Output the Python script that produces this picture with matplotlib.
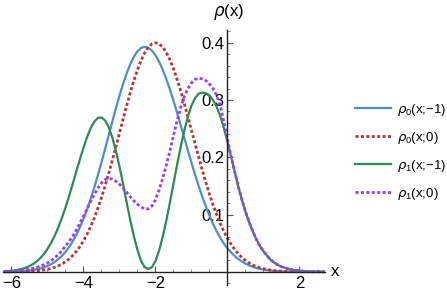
import matplotlib
matplotlib.use("Agg")
import numpy as np
import matplotlib.pyplot as plt
from matplotlib import font_manager
from matplotlib.ticker import MultipleLocator, FixedLocator

names = {f.name for f in font_manager.fontManager.ttflist}
FONT = "Liberation Sans Narrow" if "Liberation Sans Narrow" in names else "Liberation Sans"
plt.rcParams["font.family"] = [FONT, "DejaVu Sans"]
plt.rcParams["mathtext.fontset"] = "custom"
plt.rcParams["mathtext.rm"] = FONT
plt.rcParams["mathtext.it"] = "DejaVu Sans:italic"

# sample positions (step 0.1 from -6.2 to 2.7)
x = np.round(np.linspace(-6.2, 2.7, 90), 2)

rho0_m1 = [0.0002, 0.0003, 0.0004, 0.0006, 0.0009, 0.0012, 0.0017, 0.0024, 0.0032, 0.0044,
           0.0059, 0.0078, 0.0103, 0.0134, 0.0173, 0.0221, 0.0279, 0.0349, 0.0433, 0.0532,
           0.0646, 0.0778, 0.0926, 0.1093, 0.1276, 0.1475, 0.1688, 0.1913, 0.2146, 0.2384,
           0.2621, 0.2854, 0.3076, 0.3283, 0.3468, 0.3628, 0.3757, 0.3852, 0.3910, 0.3930,
           0.3913, 0.3863, 0.3781, 0.3669, 0.3531, 0.3368, 0.3186, 0.2988, 0.2777, 0.2560,
           0.2340, 0.2120, 0.1905, 0.1697, 0.1498, 0.1312, 0.1139, 0.0980, 0.0836, 0.0707,
           0.0593, 0.0494, 0.0410, 0.0338, 0.0276, 0.0224, 0.0180, 0.0143, 0.0113, 0.0088,
           0.0068, 0.0052, 0.0040, 0.0030, 0.0023, 0.0017, 0.0012, 0.0009, 0.0007, 0.0005,
           0.0003, 0.0002, 0.0002, 0.0001, 0.0001, 0.0, 0.0, 0.0, 0.0, 0.0]

rho0_0 = [0.0001, 0.0001, 0.0001, 0.0002, 0.0003, 0.0004, 0.0006, 0.0009, 0.0012, 0.0017,
          0.0024, 0.0033, 0.0044, 0.0060, 0.0079, 0.0104, 0.0136, 0.0176, 0.0225, 0.0284,
          0.0356, 0.0441, 0.0541, 0.0658, 0.0792, 0.0943, 0.1112, 0.1299, 0.1501, 0.1718,
          0.1947, 0.2184, 0.2426, 0.2668, 0.2904, 0.3131, 0.3341, 0.3530, 0.3692, 0.3824,
          0.3921, 0.3980, 0.4000, 0.3981, 0.3924, 0.3831, 0.3704, 0.3547, 0.3364, 0.3160,
          0.2940, 0.2710, 0.2473, 0.2236, 0.2002, 0.1775, 0.1559, 0.1356, 0.1168, 0.0997,
          0.0842, 0.0705, 0.0585, 0.0480, 0.0390, 0.0315, 0.0251, 0.0198, 0.0155, 0.0120,
          0.0092, 0.0070, 0.0053, 0.0039, 0.0029, 0.0021, 0.0015, 0.0011, 0.0008, 0.0005,
          0.0004, 0.0003, 0.0002, 0.0001, 0.0001, 0.0, 0.0, 0.0, 0.0, 0.0]

rho1_m1 = [0.0008, 0.0013, 0.0018, 0.0026, 0.0038, 0.0053, 0.0073, 0.0101, 0.0136, 0.0182,
           0.0239, 0.0311, 0.0400, 0.0505, 0.0631, 0.0776, 0.0940, 0.1124, 0.1323, 0.1534,
           0.1751, 0.1964, 0.2169, 0.2354, 0.2509, 0.2623, 0.2688, 0.2696, 0.2643, 0.2526,
           0.2348, 0.2115, 0.1838, 0.1531, 0.1209, 0.0900, 0.0620, 0.0380, 0.0190, 0.0080,
           0.0050, 0.0080, 0.0190, 0.0370, 0.0610, 0.0890, 0.1210, 0.1540, 0.1870, 0.2180,
           0.2468, 0.2712, 0.2903, 0.3037, 0.3111, 0.3130, 0.3120, 0.3080, 0.3000, 0.2880,
           0.2720, 0.2510, 0.2270, 0.2010, 0.1750, 0.1490, 0.1260, 0.1050, 0.0870, 0.0710,
           0.0570, 0.0450, 0.0360, 0.0280, 0.0210, 0.0160, 0.0120, 0.0090, 0.0070, 0.0050,
           0.0035, 0.0025, 0.0018, 0.0013, 0.0009, 0.0006, 0.0004, 0.0003, 0.0002, 0.0001]

rho1_0 = [0.0008, 0.0011, 0.0014, 0.0018, 0.0023, 0.0030, 0.0038, 0.0049, 0.0062, 0.0077,
          0.0098, 0.0124, 0.0155, 0.0195, 0.0245, 0.0300, 0.0370, 0.0450, 0.0530, 0.0620,
          0.0730, 0.0850, 0.0970, 0.1100, 0.1230, 0.1350, 0.1460, 0.1550, 0.1610, 0.1630,
          0.1620, 0.1580, 0.1530, 0.1460, 0.1390, 0.1310, 0.1240, 0.1180, 0.1130, 0.1100,
          0.1100, 0.1150, 0.1260, 0.1430, 0.1630, 0.1860, 0.2110, 0.2380, 0.2640, 0.2870,
          0.3060, 0.3200, 0.3300, 0.3360, 0.3380, 0.3370, 0.3340, 0.3280, 0.3200, 0.3080,
          0.2900, 0.2620, 0.2300, 0.2020, 0.1750, 0.1490, 0.1260, 0.1050, 0.0870, 0.0710,
          0.0570, 0.0450, 0.0360, 0.0280, 0.0210, 0.0160, 0.0120, 0.0090, 0.0070, 0.0050,
          0.0035, 0.0025, 0.0018, 0.0013, 0.0009, 0.0006, 0.0004, 0.0003, 0.0002, 0.0001]

labels = [r"$\rho_0$(x;$-$1)", r"$\rho_0$(x;0)", r"$\rho_1$(x;$-$1)", r"$\rho_1$(x;0)"]
xticks = [-6, -4, -2, 2]
yticks = [0.1, 0.2, 0.3, 0.4]

fig = plt.figure(figsize=(4.47, 3.0), dpi=100)
W, H = 447, 300
x0, x1 = -6.25, 2.72
y0, y1 = -0.023, 0.423
px_l, px_r = 2.5, 325.4
py_t, py_b = 29.6, 285.0
ax = fig.add_axes([px_l / W, 1 - py_b / H, (px_r - px_l) / W, (py_b - py_t) / H])
ax.set_xlim(x0, x1)
ax.set_ylim(y0, y1)

c_blue = "#4f8fc8"
c_red = "#b23a36"
c_green = "#2f8a55"
c_purple = "#9a3ff0"
dots = (0, (1.1, 0.85))

ax.plot(x, rho0_m1, color=c_blue, lw=1.6, label=labels[0])
ax.plot(x, rho0_0, color=c_red, lw=2.0, ls=dots, label=labels[1])
ax.plot(x, rho1_m1, color=c_green, lw=1.6, label=labels[2])
ax.plot(x, rho1_0, color=c_purple, lw=2.0, ls=dots, label=labels[3])

for s in ["top", "right"]:
    ax.spines[s].set_visible(False)
ax.spines["left"].set_position(("data", 0))
ax.spines["bottom"].set_position(("data", 0))
for s in ["left", "bottom"]:
    ax.spines[s].set_linewidth(1.0)
    ax.spines[s].set_color("#222222")

ax.xaxis.set_major_locator(FixedLocator(xticks))
ax.xaxis.set_minor_locator(MultipleLocator(0.5))
ax.yaxis.set_major_locator(FixedLocator(yticks))
ax.yaxis.set_minor_locator(MultipleLocator(0.02))
ax.set_xticklabels([f"\u2212{abs(t)}" if t < 0 else f"{t}" for t in xticks])
ax.set_yticklabels([f"{t:.1f}" for t in yticks])
ax.tick_params(axis="both", which="major", direction="in", length=4, width=0.8,
               color="#555555", labelsize=12, pad=3)
ax.tick_params(axis="both", which="minor", direction="in", length=2, width=0.6,
               color="#777777")
ax.tick_params(axis="y", pad=2)

fig.text(228 / W, 1 - 12 / H, r"$\rho$(x)", ha="center", va="center", fontsize=12)
fig.text(335 / W, 1 - 272 / H, "x", ha="center", va="center", fontsize=12)

leg = fig.legend(loc="upper left", bbox_to_anchor=(355 / W, 1 - 102 / H),
                 frameon=False, fontsize=9.5, handlelength=2.7, handletextpad=0.45,
                 labelspacing=0.9, borderaxespad=0, borderpad=0)

fig.savefig("out.png", dpi=100)
